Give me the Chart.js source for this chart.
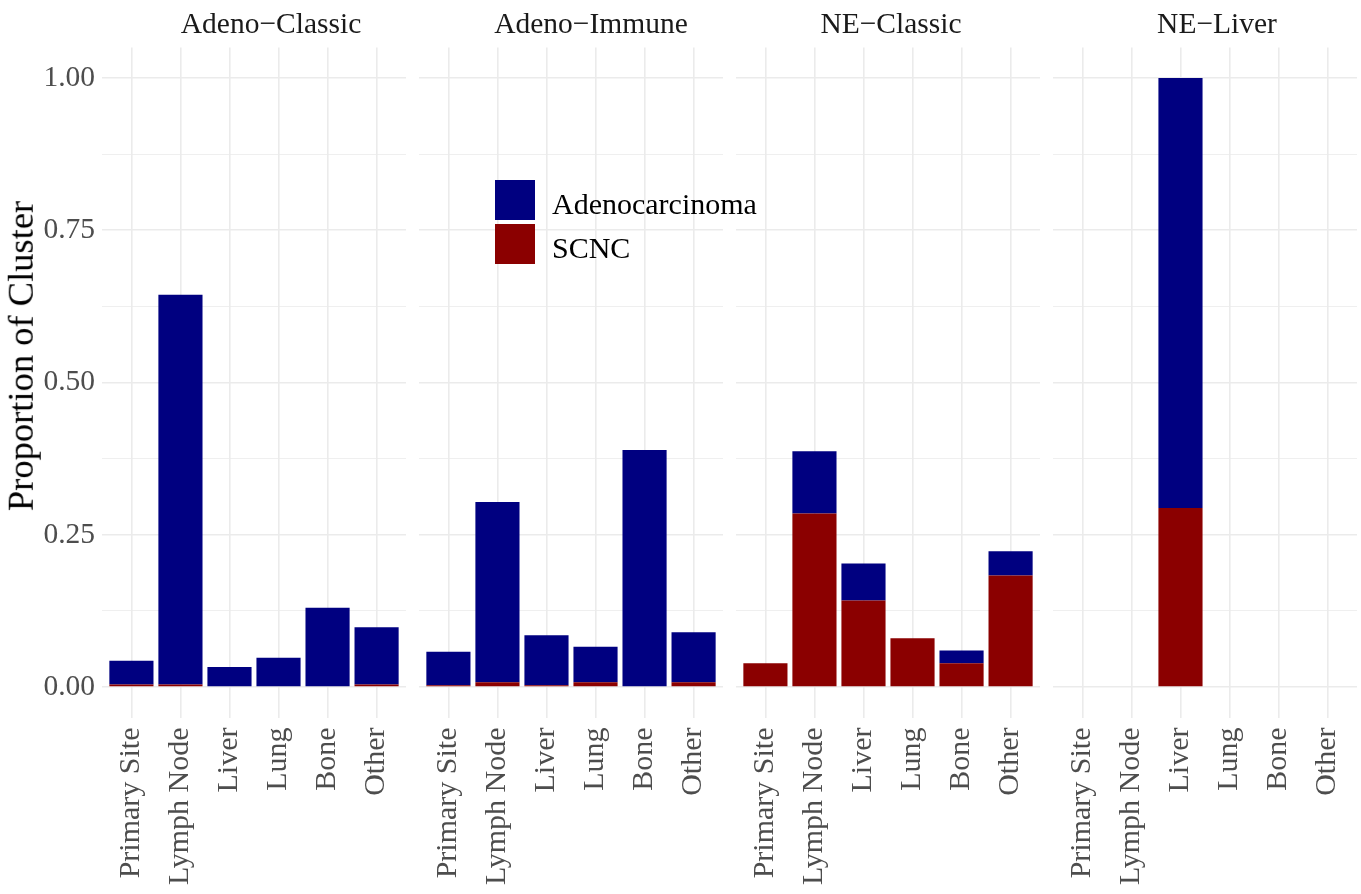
<!DOCTYPE html>
<html>
<head>
<meta charset="utf-8">
<script src="https://cdn.jsdelivr.net/npm/chart.js@4.4.1/dist/chart.umd.min.js"></script>
<style>
  html, body { margin: 0; padding: 0; background: #fff; }
  #wrap { position: relative; width: 1361px; height: 894px; overflow: hidden; font-family: "Liberation Serif", serif; }
  .panel { position: absolute; top: 0; height: 894px; }
  .strip { position: absolute; top: 9px; font-size: 29.5px; line-height: 1; color: #1a1a1a; white-space: nowrap; transform: translateX(-50%); }
  .key { position: absolute; left: 495px; width: 40px; height: 40px; }
  .ltext { position: absolute; left: 552px; font-size: 30px; line-height: 1; color: #000; white-space: nowrap; }
  .ytitle { position: absolute; left: 21px; top: 356px; font-size: 36.5px; line-height: 1; color: #000; white-space: nowrap; transform: translate(-50%, -50%) rotate(-90deg); }
</style>
</head>
<body>
<div id="wrap">
  <div class="key" style="top:180px; background:#000080;"></div>
  <div class="key" style="top:224px; background:#8b0000;"></div>
  <div class="ltext" style="top:189px;">Adenocarcinoma</div>
  <div class="ltext" style="top:233px;">SCNC</div>
  <div class="ytitle">Proportion of Cluster</div>
</div>
<script>
const categories = ["Primary Site", "Lymph Node", "Liver", "Lung", "Bone", "Other"];
const clusters = ["Adeno\u2212Classic", "Adeno\u2212Immune", "NE\u2212Classic", "NE\u2212Liver"];

// proportion of each cluster, per site
const adenoValues = [
  [0.039, 0.640, 0.033, 0.048, 0.130, 0.094],
  [0.055, 0.296, 0.082, 0.058, 0.389, 0.082],
  [0.000, 0.102, 0.061, 0.000, 0.021, 0.040],
  [0.000, 0.000, 0.706, 0.000, 0.000, 0.000]
];
const scncValues = [
  [0.004, 0.004, 0.000, 0.000, 0.000, 0.004],
  [0.003, 0.008, 0.003, 0.008, 0.000, 0.008],
  [0.039, 0.285, 0.142, 0.080, 0.039, 0.183],
  [0.000, 0.000, 0.294, 0.000, 0.000, 0.000]
];

const yTicks = [0, 0.25, 0.5, 0.75, 1];
const yMinor = [0.125, 0.375, 0.625, 0.875];
const yGrid = yTicks.concat(yMinor).sort((a, b) => a - b);

const panelLeft = [102, 419, 736, 1053];
const panelWidth = 304;
const titleCenter = [271, 591, 891, 1217];
const serif = "'Liberation Serif', 'Times New Roman', serif";

const wrap = document.getElementById("wrap");

clusters.forEach(function (name, i) {
    const first = i === 0;
    const left = first ? 0 : panelLeft[i];
    const width = panelLeft[i] + panelWidth - left;

    const div = document.createElement("div");
    div.className = "panel";
    div.style.left = left + "px";
    div.style.width = width + "px";
    const canvas = document.createElement("canvas");
    canvas.width = width;
    canvas.height = 894;
    div.appendChild(canvas);
    wrap.insertBefore(div, wrap.firstChild);

    const strip = document.createElement("div");
    strip.className = "strip";
    strip.style.left = titleCenter[i] + "px";
    strip.textContent = name;
    wrap.appendChild(strip);

    new Chart(canvas, {
        type: "bar",
        data: {
            datasets: [
                {
                    label: "SCNC",
                    data: scncValues[i].map((v, j) => ({ x: j, y: v })),
                    backgroundColor: "#8b0000"
                },
                {
                    label: "Adenocarcinoma",
                    data: adenoValues[i].map((v, j) => ({ x: j, y: v })),
                    backgroundColor: "#000080"
                }
            ]
        },
        options: {
            responsive: false,
            animation: false,
            devicePixelRatio: 1,
            layout: { padding: { top: 47.5, left: 0, right: 0, bottom: 0 } },
            categoryPercentage: 1,
            barPercentage: 0.9,
            plugins: { legend: { display: false }, tooltip: { enabled: false } },
            scales: {
                x: {
                    type: "linear",
                    min: -0.6,
                    max: 5.6,
                    stacked: true,
                    offset: false,
                    afterBuildTicks: s => { s.ticks = categories.map((c, j) => ({ value: j })); },
                    afterFit: s => {
                        s.height = 176.5;
                        s.paddingLeft = 0;
                        s.paddingRight = 0;
                    },
                    ticks: {
                        autoSkip: false,
                        minRotation: 90,
                        maxRotation: 90,
                        padding: 10,
                        color: "#4d4d4d",
                        font: { family: serif, size: 30 },
                        callback: (v, idx) => categories[idx]
                    },
                    grid: { offset: false, color: "#ebebeb", lineWidth: 1.6, drawTicks: false },
                    border: { display: false }
                },
                y: {
                    min: -0.05,
                    max: 1.05,
                    stacked: true,
                    afterBuildTicks: s => { s.ticks = yGrid.map(v => ({ value: v })); },
                    afterFit: s => {
                        s.width = first ? 102 : 0;
                        s.paddingTop = 0;
                        s.paddingBottom = 0;
                    },
                    ticks: {
                        display: first,
                        autoSkip: false,
                        padding: 7,
                        color: "#4d4d4d",
                        font: { family: serif, size: 29.5 },
                        callback: v => yTicks.includes(v) ? v.toFixed(2) : ""
                    },
                    grid: {
                        drawTicks: false,
                        color: "#ebebeb",
                        lineWidth: ctx => yTicks.includes(ctx.tick.value) ? 1.6 : 0.8
                    },
                    border: { display: false }
                }
            }
        }
    });
});
</script>
</body>
</html>
